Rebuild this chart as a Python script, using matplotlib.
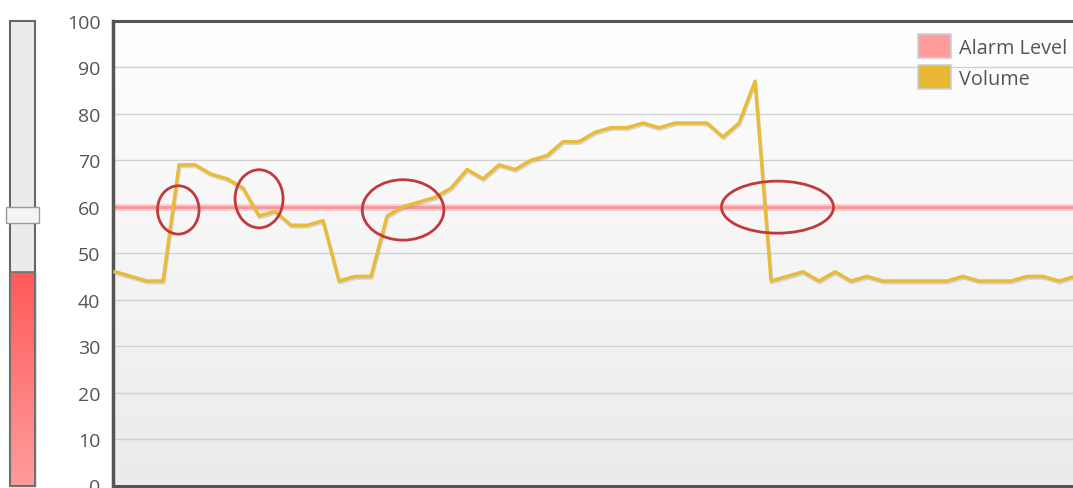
import numpy as np
import matplotlib.pyplot as plt
from matplotlib.patches import Ellipse, Rectangle, Patch
from matplotlib.colors import LinearSegmentedColormap
import matplotlib.patheffects as pe

plt.rcParams['font.family'] = ['Open Sans', 'DejaVu Sans']

# volume samples, one per tick
volume = [46, 45, 44, 44, 69, 69, 67, 66, 64, 58,
          59, 56, 56, 57, 44, 45, 45, 58, 60, 61,
          62, 64, 68, 66, 69, 68, 70, 71, 74, 74,
          76, 77, 77, 78, 77, 78, 78, 78, 75, 78,
          87, 44, 45, 46, 44, 46, 44, 45, 44, 44,
          44, 44, 44, 45, 44, 44, 44, 45, 45, 44,
          45]
alarm_level = 60
gauge_level = 46
y_ticks = [0, 10, 20, 30, 40, 50, 60, 70, 80, 90, 100]
legend_labels = ['Alarm Level', 'Volume']
# circled crossings: (sample, value, width in samples, height in value)
marks = [(3.95, 59.3, 2.6, 10.4),
         (9.0, 61.7, 3.0, 12.5),
         (18.0, 59.3, 5.1, 13.0),
         (41.4, 59.9, 7.0, 11.2)]

W, H = 1073, 489
fig = plt.figure(figsize=(W / 100, H / 100), dpi=100)
fig.patch.set_facecolor('white')

top_px, bot_px = 21.8, 486.5
ax_b = (H - bot_px) / H
ax_h = (bot_px - top_px) / H
ax = fig.add_axes([113 / W, ax_b, (1090 - 113) / W, ax_h])
x = np.arange(len(volume))
ax.set_xlim(-0.13, -0.13 + (1090 - 113) / 16)
ax.set_ylim(0, 100)

# soft white-to-grey background
grad = np.linspace(1, 0, 256).reshape(-1, 1)
ax.imshow(grad, cmap=LinearSegmentedColormap.from_list('bg', ['#ebebeb', '#ffffff']),
          aspect='auto', extent=[0, 1, 0, 1], transform=ax.transAxes, zorder=0)

for v in y_ticks[1:-1]:
    ax.axhline(v, color='#d2d2d2', lw=1.0, zorder=1)

ax.axhline(alarm_level, color='#f6b4b8', lw=5, alpha=0.6, zorder=2)
ax.axhline(alarm_level, color='#f29aa0', lw=2.2, zorder=2)

ax.plot(x, volume, color='#e8bb3a', lw=2.5, zorder=3, solid_joinstyle='round',
        path_effects=[pe.SimpleLineShadow(offset=(0.5, -1.2), shadow_color='#999999', alpha=0.35),
                      pe.Normal()])

for cx, cy, w, h in marks:
    ax.add_patch(Ellipse((cx, cy), w, h, fill=False, edgecolor='#c0393d', lw=2.0, zorder=4))

ax.set_yticks(y_ticks)
ax.set_xticks([])
ax.tick_params(axis='y', length=0, pad=9, labelsize=14, labelcolor='#555555')
for s in ['left', 'top', 'bottom']:
    ax.spines[s].set_color('#555555')
ax.spines['left'].set_linewidth(2.5)
ax.spines['top'].set_linewidth(2.2)
ax.spines['bottom'].set_linewidth(2.2)
ax.spines['right'].set_visible(False)

handles = [Patch(facecolor='#ff9b9b', edgecolor='#cfcfcf', lw=1.2),
           Patch(facecolor='#e9b935', edgecolor='#cfcfcf', lw=1.2)]
fig.legend(handles, legend_labels, loc='upper left',
           bbox_to_anchor=(914 / W, 1 - 31 / H), frameon=False,
           fontsize=14.3, labelcolor='#555555', handlelength=1.65,
           handleheight=1.5, handletextpad=0.4, labelspacing=0.35,
           borderaxespad=0, borderpad=0.2)

# level gauge on the left
g = fig.add_axes([10 / W, ax_b, 25 / W, ax_h])
g.set_xlim(0, 1)
g.set_ylim(0, 100)
g.axis('off')
g.add_patch(Rectangle((0, 0), 1, 100, facecolor='#ebebeb', edgecolor='#666666',
                      lw=1.5, clip_on=False, zorder=1))
red = np.linspace(0, 1, 256).reshape(-1, 1)
g.imshow(red, cmap=LinearSegmentedColormap.from_list('lvl', ['#ff9c9c', '#ff5a5a']),
         origin='lower', aspect='auto', extent=[0.04, 0.96, 0, gauge_level], zorder=2)
g.add_patch(Rectangle((0, 0), 1, gauge_level, fill=False, edgecolor='#777777',
                      lw=1.0, clip_on=False, zorder=3))
g.add_patch(Rectangle((-0.16, alarm_level - 3.5), 1.32, 3.4, facecolor='#f4f4f4',
                      edgecolor='#9a9a9a', lw=1.0, clip_on=False, zorder=4))

fig.savefig('out.png', dpi=100)
